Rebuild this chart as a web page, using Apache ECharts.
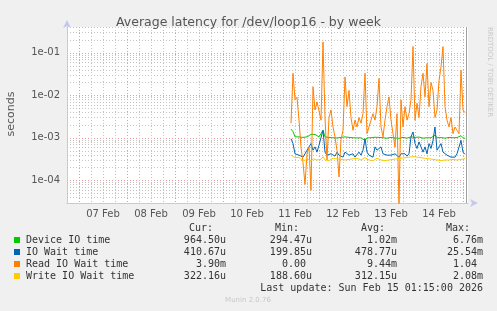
<!DOCTYPE html>
<html>
<head>
<meta charset="utf-8">
<script src="https://cdn.jsdelivr.net/npm/echarts@6/dist/echarts.min.js"></script>
<style>
  html, body { margin: 0; padding: 0; background: #f0f0f0; }
  #chart { width: 497px; height: 311px; }
</style>
</head>
<body>
<div id="chart"></div>
<script>
// hours counted from 07 Feb 00:00, one sample per hour from 11 Feb 10:00
var startHour = 106;
var dayLabels = ['07 Feb', '08 Feb', '09 Feb', '10 Feb', '11 Feb', '12 Feb', '13 Feb', '14 Feb'];
var dayStarts = [0, 24, 48, 72, 96, 120, 144, 168, 192];
var yTicks = [1e-4, 1e-3, 1e-2, 1e-1];
var yTickText = ['1e-04', '1e-03', '1e-02', '1e-01'];

var seriesNames = ['Device IO time', 'IO Wait time', 'Read IO Wait time', 'Write IO Wait time'];
var seriesColors = ['#00cc00', '#0066b3', '#ff8000', '#ffcc00'];
var curVals = ['964.50u', '410.67u', '3.90m', '322.16u'];
var minVals = ['294.47u', '199.85u', '0.00 ', '188.60u'];
var avgVals = ['1.02m', '478.77u', '9.44m', '312.15u'];
var maxVals = ['6.76m', '25.54m', '1.04 ', '2.08m'];

var deviceIO = [1.6e-3, 1.4e-3, 1.05e-3, 1.0e-3, 1.05e-3, 0.98e-3, 1.02e-3, 1.0e-3, 1.05e-3, 1.1e-3,
  1.2e-3, 1.15e-3, 1.2e-3, 1.1e-3, 1.05e-3, 1.1e-3, 1.5e-3, 1.05e-3, 1.0e-3, 1.02e-3,
  0.98e-3, 1.0e-3, 1.03e-3, 0.99e-3, 1.0e-3, 1.02e-3, 0.98e-3, 1.05e-3, 1.0e-3, 1.02e-3,
  0.97e-3, 1.0e-3, 1.01e-3, 0.99e-3, 1.02e-3, 1.0e-3, 1.05e-3, 0.86e-3, 1.0e-3, 1.02e-3,
  1.0e-3, 0.98e-3, 1.03e-3, 1.0e-3, 1.02e-3, 0.99e-3, 1.0e-3, 1.01e-3, 0.98e-3, 1.0e-3,
  1.02e-3, 1.0e-3, 0.99e-3, 1.01e-3, 0.97e-3, 1.0e-3, 1.02e-3, 1.0e-3, 0.98e-3, 1.0e-3,
  1.05e-3, 1.15e-3, 1.02e-3, 1.0e-3, 1.04e-3, 1.0e-3, 0.98e-3, 1.02e-3, 1.0e-3, 1.03e-3,
  1.0e-3, 1.02e-3, 1.15e-3, 1.0e-3, 0.99e-3, 1.01e-3, 1.0e-3, 0.98e-3, 1.0e-3, 1.02e-3,
  0.99e-3, 1.0e-3, 0.98e-3, 1.01e-3, 1.0e-3, 1.12e-3, 1.0e-3, 0.965e-3];

var ioWait = [9.5e-4, 7.3e-4, 4.2e-4, 4.6e-4, 3.9e-4, 3.7e-4, 3.5e-4, 4.2e-4, 5.1e-4, 5.6e-4,
  7.3e-4, 5.1e-4, 6.1e-4, 4.6e-4, 6.7e-4, 7.3e-4, 1.5e-3, 4.6e-4, 3.9e-4, 3.5e-4,
  4.2e-4, 3.9e-4, 3.7e-4, 4.6e-4, 3.9e-4, 4.2e-4, 3.5e-4, 4.6e-4, 4.2e-4, 3.9e-4,
  3.7e-4, 4.2e-4, 3.5e-4, 3.9e-4, 4.6e-4, 3.9e-4, 5.1e-4, 9.5e-4, 4.6e-4, 3.9e-4,
  4.2e-4, 3.5e-4, 6.1e-4, 5.1e-4, 5.6e-4, 6.1e-4, 4.2e-4, 4.6e-4, 3.9e-4, 4.2e-4,
  3.9e-4, 3.5e-4, 4.2e-4, 3.9e-4, 3.5e-4, 4.2e-4, 3.9e-4, 4.2e-4, 3.7e-4, 4.2e-4,
  1.05e-3, 1.37e-3, 7.3e-4, 5.6e-4, 8.0e-4, 6.1e-4, 4.6e-4, 6.1e-4, 4.2e-4, 7.3e-4,
  5.6e-4, 8.7e-4, 1.8e-3, 5.1e-4, 6.1e-4, 7.3e-4, 4.6e-4, 4.2e-4, 3.9e-4, 3.7e-4,
  3.5e-4, 3.9e-4, 3.5e-4, 4.2e-4, 3.9e-4, 8.7e-4, 4.6e-4, 4.1e-4];

var readWait = [2.2e-3, 3.3e-2, 7.8e-3, 9.0e-3, 2.6e-3, 6.0e-4, 2.6e-4, 8.0e-5, 4.2e-4, 6.0e-4,
  5.8e-5, 1.6e-2, 4.5e-3, 7.0e-3, 6.5e-3, 2.6e-3, 1.8e-1, 3.0e-3, 3.0e-4, 3.0e-3,
  4.5e-3, 1.8e-3, 1.05e-3, 5.0e-4, 1.2e-4, 9.0e-4, 1.5e-3, 2.7e-2, 5.4e-3, 1.3e-2,
  3.0e-3, 1.5e-3, 2.6e-3, 1.8e-3, 3.0e-3, 2.2e-3, 3.7e-3, 3.3e-2, 1.25e-3, 1.8e-3,
  2.6e-3, 3.7e-3, 2.6e-3, 5.4e-3, 2.5e-2, 1.8e-3, 1.05e-3, 2.6e-3, 5.4e-3, 9.2e-3,
  2.6e-3, 1.25e-3, 6.0e-4, 3.7e-3, 2.5e-5, 7.8e-3, 1.8e-3, 5.4e-3, 2.6e-3, 3.7e-3,
  7.8e-3, 1.4e-1, 2.6e-3, 6.5e-3, 3.0e-3, 1.6e-2, 3.3e-2, 9.2e-3, 5.6e-2, 5.4e-3,
  2.0e-2, 1.3e-2, 3.0e-3, 4.5e-3, 2.2e-2, 4.7e-2, 1.4e-1, 5.4e-3, 2.6e-3, 1.8e-3,
  3.0e-3, 1.25e-3, 1.8e-3, 1.5e-3, 1.25e-3, 3.9e-2, 4.5e-3, 3.9e-3];

var writeWait = [3.9e-4, 3.6e-4, 3.4e-4, 3.3e-4, 3.5e-4, 3.1e-4, 3.2e-4, 2.9e-4, 3.3e-4, 3.0e-4,
  2.8e-4, 3.2e-4, 3.4e-4, 3.0e-4, 3.3e-4, 3.1e-4, 3.6e-4, 3.0e-4, 3.2e-4, 2.9e-4,
  3.1e-4, 3.3e-4, 3.0e-4, 3.2e-4, 2.9e-4, 3.1e-4, 3.3e-4, 3.0e-4, 3.2e-4, 3.1e-4,
  2.9e-4, 3.2e-4, 3.0e-4, 3.3e-4, 3.1e-4, 3.0e-4, 3.2e-4, 3.4e-4, 3.1e-4, 3.0e-4,
  3.2e-4, 2.9e-4, 3.1e-4, 3.3e-4, 3.2e-4, 3.0e-4, 3.1e-4, 2.9e-4, 3.2e-4, 3.0e-4,
  3.3e-4, 3.1e-4, 3.4e-4, 3.2e-4, 3.5e-4, 3.3e-4, 3.6e-4, 3.4e-4, 3.7e-4, 3.5e-4,
  3.8e-4, 3.6e-4, 3.9e-4, 3.5e-4, 3.7e-4, 3.4e-4, 3.6e-4, 3.3e-4, 3.5e-4, 3.2e-4,
  3.4e-4, 3.1e-4, 3.3e-4, 3.0e-4, 3.2e-4, 2.9e-4, 3.1e-4, 3.0e-4, 2.8e-4, 3.0e-4,
  2.9e-4, 3.1e-4, 2.8e-4, 3.0e-4, 2.9e-4, 3.1e-4, 3.0e-4, 3.22e-4];

var yMin = 2.92e-5, yMax = 0.404;
var lastHour = 193.5;

function withHours(vals) {
  return vals.map(function (v, i) { return [startHour + i, v]; });
}

// grid lines: [kind, value]; kind 0 = minor horizontal, 1 = major vertical, 2 = end marker
var gridLines = [];
for (var d = -5; d <= -1; d++) {
  for (var m = 2; m <= 9; m++) {
    var v = m * Math.pow(10, d);
    if (v > yMin && v < yMax) gridLines.push([0, v]);
  }
}
dayStarts.forEach(function (h) { gridLines.push([1, h]); });
gridLines.push([2, lastHour]);

function renderGrid(params, api) {
  var cs = params.coordSys;
  var kind = api.value(0);
  var val = api.value(1);
  var shape, stroke, dash;
  if (kind === 0) {
    var y = Math.round(api.coord([0, val])[1]) + 0.5;
    shape = { x1: cs.x, y1: y, x2: cs.x + cs.width, y2: y };
    stroke = '#c4c4c4'; dash = [1, 2];
  } else {
    var x = Math.round(api.coord([val, 1e-3])[0]) + 0.5;
    shape = { x1: x, y1: cs.y, x2: x, y2: cs.y + cs.height };
    stroke = kind === 1 ? '#ec9a9a' : '#a0a0a0';
    dash = kind === 1 ? [1, 2] : null;
  }
  return { type: 'line', shape: shape, style: { stroke: stroke, lineWidth: 1, lineDash: dash } };
}

var myChart = echarts.init(document.getElementById('chart'));

var graphic = [
  { type: 'text', x: 11, y: 114, rotation: Math.PI / 2,
    style: { text: 'seconds', font: '11px "DejaVu Sans"', fill: '#555', align: 'center', verticalAlign: 'middle' } },
  { type: 'text', x: 490, y: 72, rotation: -Math.PI / 2,
    style: { text: 'RRDTOOL / TOBI OETIKER', font: '7px "DejaVu Sans"', fill: '#c8c8c8', align: 'center', verticalAlign: 'middle' } },
  { type: 'text', x: 213, y: 228, style: { text: 'Cur:', font: '10px "DejaVu Sans Mono"', fill: '#333', align: 'right', verticalAlign: 'middle' } },
  { type: 'text', x: 299, y: 228, style: { text: 'Min:', font: '10px "DejaVu Sans Mono"', fill: '#333', align: 'right', verticalAlign: 'middle' } },
  { type: 'text', x: 385, y: 228, style: { text: 'Avg:', font: '10px "DejaVu Sans Mono"', fill: '#333', align: 'right', verticalAlign: 'middle' } },
  { type: 'text', x: 470, y: 228, style: { text: 'Max:', font: '10px "DejaVu Sans Mono"', fill: '#333', align: 'right', verticalAlign: 'middle' } },
  { type: 'text', x: 483, y: 288, style: { text: 'Last update: Sun Feb 15 01:15:00 2026', font: '10px "DejaVu Sans Mono"', fill: '#333', align: 'right', verticalAlign: 'middle' } },
  { type: 'text', x: 248, y: 300, style: { text: 'Munin 2.0.76', font: '7px "DejaVu Sans"', fill: '#c8c8c8', align: 'center', verticalAlign: 'middle' } }
];
seriesNames.forEach(function (name, i) {
  var y = 240 + i * 12;
  var f = '10px "DejaVu Sans Mono"';
  graphic.push({ type: 'rect', shape: { x: 14, y: y - 3, width: 6, height: 6 }, style: { fill: seriesColors[i] } });
  graphic.push({ type: 'text', x: 26, y: y, style: { text: name, font: f, fill: '#333', verticalAlign: 'middle' } });
  graphic.push({ type: 'text', x: 226, y: y, style: { text: curVals[i], font: f, fill: '#333', align: 'right', verticalAlign: 'middle' } });
  graphic.push({ type: 'text', x: 312, y: y, style: { text: minVals[i], font: f, fill: '#333', align: 'right', verticalAlign: 'middle' } });
  graphic.push({ type: 'text', x: 397, y: y, style: { text: avgVals[i], font: f, fill: '#333', align: 'right', verticalAlign: 'middle' } });
  graphic.push({ type: 'text', x: 483, y: y, style: { text: maxVals[i], font: f, fill: '#333', align: 'right', verticalAlign: 'middle' } });
});

var dataSets = [deviceIO, ioWait, readWait, writeWait];
var series = [{
  name: 'grid',
  type: 'custom',
  data: gridLines,
  z: 1,
  silent: true,
  clip: true,
  renderItem: renderGrid
}];
dataSets.forEach(function (vals, i) {
  series.push({
    name: seriesNames[i],
    type: 'line',
    data: withHours(vals),
    showSymbol: false,
    z: 2 + i,
    lineStyle: { color: seriesColors[i], width: 1 },
    itemStyle: { color: seriesColors[i] }
  });
});

myChart.setOption({
  backgroundColor: '#f0f0f0',
  animation: false,
  title: {
    text: 'Average latency for /dev/loop16 - by week',
    left: 'center',
    top: 11,
    textStyle: { fontFamily: 'DejaVu Sans', fontSize: 12.5, fontWeight: 'normal', color: '#555' }
  },
  grid: {
    left: 67, right: 29, top: 27, bottom: 108,
    show: true, backgroundColor: '#fff', borderWidth: 0
  },
  xAxis: {
    type: 'value',
    min: -6,
    max: 194.5,
    interval: 6,
    axisLine: { onZero: false, lineStyle: { color: '#c4c8ec' }, symbol: ['none', 'arrow'], symbolSize: [6, 8], symbolOffset: [0, 10] },
    axisTick: { show: false },
    axisLabel: {
      interval: 0,
      margin: 6,
      fontFamily: 'DejaVu Sans',
      fontSize: 10,
      color: '#555',
      formatter: function (v) {
        if ((v - 12) % 24 === 0) {
          var k = (v - 12) / 24;
          return dayLabels[k] || '';
        }
        return '';
      }
    },
    splitLine: {
      show: true,
      showMinLine: false,
      showMaxLine: false,
      lineStyle: { color: '#c4c4c4', type: [1, 2], width: 1 }
    }
  },
  yAxis: {
    type: 'log',
    logBase: 10,
    min: yMin,
    max: yMax,
    axisLine: { show: true, onZero: false, lineStyle: { color: '#c4c8ec' }, symbol: ['none', 'arrow'], symbolSize: [6, 8], symbolOffset: [0, 7] },
    axisTick: { show: false },
    axisLabel: {
      margin: 7,
      fontFamily: 'DejaVu Sans',
      fontSize: 10,
      color: '#555',
      formatter: function (v) {
        for (var i = 0; i < yTicks.length; i++) {
          if (Math.abs(Math.log10(v) - Math.log10(yTicks[i])) < 1e-6) return yTickText[i];
        }
        return '';
      }
    },
    splitLine: {
      show: true,
      showMinLine: false,
      showMaxLine: false,
      lineStyle: { color: '#ec9a9a', type: [1, 2], width: 1 }
    }
  },
  graphic: graphic,
  series: series
});
</script>
</body>
</html>
